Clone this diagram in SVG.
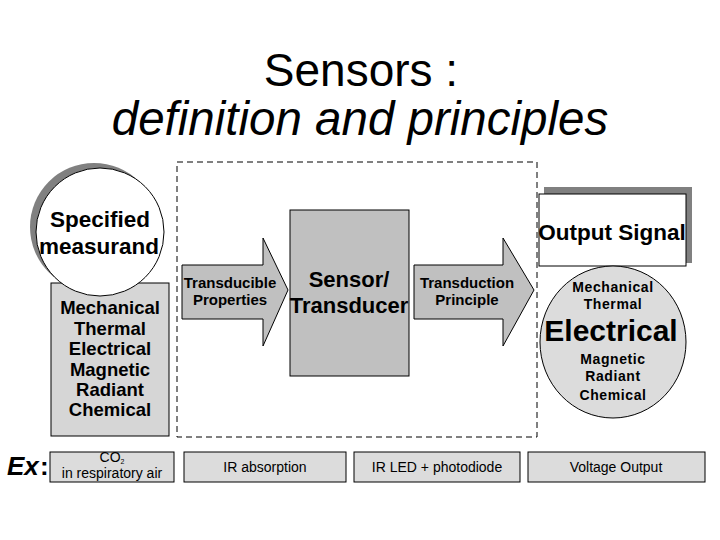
<svg xmlns="http://www.w3.org/2000/svg" width="720" height="540" viewBox="0 0 720 540">
<style>
.t{font-family:"Liberation Sans",Arial,sans-serif;font-weight:bold;fill:#000;text-anchor:middle}
.s{stroke:#000;stroke-width:1}
.ex{font-family:"Liberation Sans",Arial,sans-serif;fill:#000;text-anchor:middle;font-size:14px}
.e{letter-spacing:0.6px}
</style>
<rect width="720" height="540" fill="#fff"/>
<g id="title">
<text x="361" y="86" class="t" style="font-weight:normal;font-size:46px">Sensors :</text>
<text x="360" y="135" class="t" style="font-weight:normal;font-style:italic;font-size:47.5px">definition and principles</text>
</g>
<g id="dashed-frame">
<rect x="177" y="162" width="360" height="275" fill="none" stroke="#000" stroke-dasharray="6,4"/>
</g>
<g id="properties-box">
<rect x="51" y="283" width="118" height="153" fill="#d6d6d6" class="s"/>
<text class="t" font-size="18.5" x="110" y="314">Mechanical</text>
<text class="t" font-size="18.5" x="110" y="335">Thermal</text>
<text class="t" font-size="18.5" x="110" y="355">Electrical</text>
<text class="t" font-size="18.5" x="110" y="376">Magnetic</text>
<text class="t" font-size="18.5" x="110" y="396">Radiant</text>
<text class="t" font-size="18.5" x="110" y="416">Chemical</text>
</g>
<g id="measurand">
<circle cx="94" cy="227" r="64" fill="#808080"/>
<circle cx="100" cy="232" r="64" fill="#fff" class="s"/>
<text class="t" font-size="22.5" x="100" y="227">Specified</text>
<text class="t" font-size="22.5" x="99" y="254">measurand</text>
</g>
<g id="connectors">
<polygon points="182,265 263,265 263,238 288,290 263,346 263,319 182,319" fill="#c0c0c0" class="s"/>
<text class="t" font-size="15" x="230" y="288">Transducible</text>
<text class="t" font-size="15" x="230" y="305">Properties</text>
<polygon points="414,265 503,265 503,238 534,290 503,346 503,319 414,319" fill="#c0c0c0" class="s"/>
<text class="t" font-size="15" x="467" y="288">Transduction</text>
<text class="t" font-size="15" x="467" y="305">Principle</text>
</g>
<g id="sensor">
<rect x="290" y="210" width="119" height="166" fill="#c0c0c0" class="s"/>
<text class="t" font-size="22" x="349" y="287">Sensor/</text>
<text class="t" font-size="22" x="349" y="313">Transducer</text>
</g>
<g id="output-signal">
<rect x="544" y="187" width="148" height="76" fill="#808080"/>
<rect x="539" y="194" width="147" height="72" fill="#fff" class="s"/>
<text class="t" font-size="22.5" x="612" y="240">Output Signal</text>
</g>
<g id="output-forms">
<ellipse cx="613" cy="342" rx="73" ry="76" fill="#dcdcdc" class="s"/>
<text class="t e" font-size="14" x="613" y="292">Mechanical</text>
<text class="t e" font-size="14" x="613" y="309">Thermal</text>
<text class="t" font-size="30" x="611" y="341">Electrical</text>
<text class="t e" font-size="14" x="613" y="364">Magnetic</text>
<text class="t e" font-size="14" x="613" y="381">Radiant</text>
<text class="t e" font-size="14" x="613" y="400">Chemical</text>
</g>
<g id="example">
<text x="7" y="475" font-family="Liberation Sans,Arial,sans-serif" font-size="26" font-weight="bold" font-style="italic" fill="#000">Ex</text>
<text x="40" y="475" font-family="Liberation Sans,Arial,sans-serif" font-size="26" font-weight="bold" fill="#000">:</text>
</g>
<g id="ex-measurand">
<rect x="50" y="452" width="124" height="30" fill="#dcdcdc" class="s"/>
<text class="ex" x="112" y="462" font-size="12">CO<tspan font-size="7" dy="2">2</tspan></text>
<text class="ex" x="112" y="478">in respiratory air</text>
</g>
<g id="ex-property">
<rect x="184" y="452" width="162" height="30" fill="#dcdcdc" class="s"/>
<text class="ex" x="265" y="472">IR absorption</text>
</g>
<g id="ex-sensor">
<rect x="354" y="452" width="166" height="30" fill="#dcdcdc" class="s"/>
<text class="ex" x="437" y="472">IR LED + photodiode</text>
</g>
<g id="ex-output">
<rect x="528" y="452" width="177" height="30" fill="#dcdcdc" class="s"/>
<text class="ex" x="616" y="472">Voltage Output</text>
</g>
</svg>
